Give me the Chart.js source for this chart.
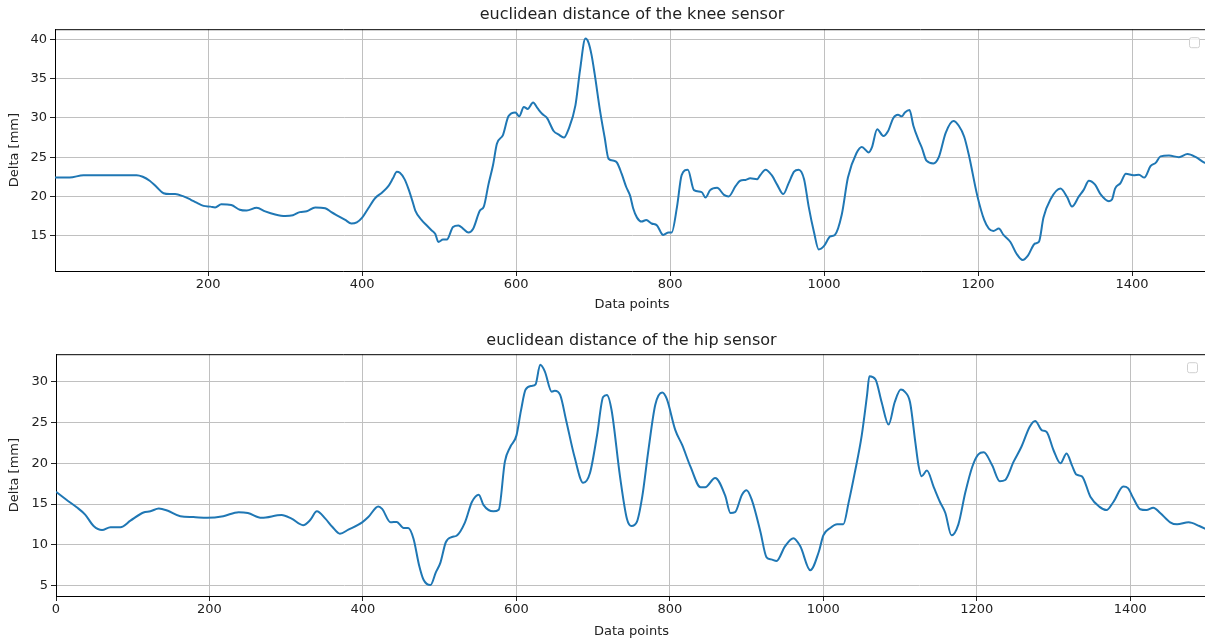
<!DOCTYPE html>
<html>
<head>
<meta charset="utf-8">
<script src="https://cdn.jsdelivr.net/npm/chart.js@4/dist/chart.umd.min.js"></script>
<style>
  body { margin: 0; background: #fff; overflow: hidden; width: 1205px; height: 639px; }
  canvas { display: block; }
</style>
</head>
<body>
<canvas id="knee" width="1210" height="320"></canvas>
<canvas id="hip" width="1210" height="319"></canvas>
<script>
// values
const kneeX = [1,20,38,60,80,107,115,124,133,142,150,157,168,177,185,194,203,209,217,230,241,250,263,274,287,300,310,319,328,339,352,360,369,378,386,393,400,408,417,426,434,440,445,449,455,460,465,469,477,484,490,495,499,505,510,518,525,531,538,544,553,558,564,570,575,583,590,599,604,610,615,622,628,634,640,649,655,662,668,677,683,690,694,698,702,709,715,720,727,731,737,743,748,752,757,763,769,776,783,791,798,802,809,815,823,831,841,846,852,861,870,876,885,891,898,904,913,917,924,932,939,947,954,961,967,974,980,987,993,1000,1008,1014,1023,1031,1042,1049,1058,1062,1069,1077,1083,1090,1096,1101,1105,1111,1116,1123,1127,1133,1142,1149,1158,1168,1175,1182,1188,1199,1208,1214,1220,1227,1233,1242,1250,1258,1265,1274,1279,1285,1294,1307,1316,1322,1331,1337,1344,1352,1359,1370,1374,1378,1385,1392,1402,1409,1416,1424,1431,1437,1448,1461,1472,1483,1494,1500];
const kneeY = [22.4,22.4,22.7,22.7,22.7,22.7,22.5,22.0,21.2,20.4,20.3,20.3,20.0,19.6,19.2,18.8,18.7,18.6,19.0,18.9,18.3,18.2,18.55,18.1,17.7,17.5,17.6,18.0,18.1,18.6,18.5,18.0,17.5,17.0,16.55,16.7,17.3,18.5,19.8,20.5,21.3,22.3,23.15,23.0,22.2,21.0,19.5,18.2,17.0,16.3,15.7,15.2,14.2,14.5,14.5,16.1,16.3,15.9,15.4,15.85,18.2,18.7,21.5,24.0,26.7,27.85,30.2,30.7,30.2,31.4,31.15,31.95,31.2,30.5,30.0,28.3,27.9,27.5,28.55,31.6,36.1,40.1,39.6,38.0,35.6,30.9,27.5,24.8,24.55,24.3,22.9,21.2,20.1,18.5,17.3,16.8,17.0,16.55,16.3,15.1,15.4,15.4,18.7,22.7,23.4,20.8,20.55,19.85,20.8,21.1,20.2,20.0,21.3,22.0,22.1,22.3,22.2,22.7,23.4,22.7,21.5,20.3,21.7,23.15,23.4,22.2,18.7,15.4,13.25,13.7,14.9,15.1,17.7,22.4,25.5,26.3,25.6,26.2,28.55,27.7,28.3,30.0,30.4,30.2,30.7,31.0,29.0,27.1,26.2,24.55,24.2,25.0,28.1,29.6,29.0,27.6,25.3,20.1,17.0,15.9,15.6,15.9,15.1,14.2,12.7,11.9,12.5,14.0,14.2,17.3,19.6,21.0,19.85,18.7,20.0,20.8,22.0,21.5,20.3,19.4,19.6,21.0,21.7,22.9,22.7,22.75,22.4,23.85,24.3,25.1,25.2,25.0,25.4,25.0,24.3,24.1];

const hipX = [0,14,27,38,49,60,71,84,97,114,123,134,145,162,179,197,218,238,250,268,294,307,322,331,340,351,360,370,381,399,407,420,425,436,444,453,459,466,473,479,488,495,501,508,516,522,533,542,551,557,570,577,585,592,600,606,612,620,625,631,637,646,650,657,665,676,687,696,705,713,718,724,735,744,750,757,764,772,781,790,796,807,816,827,840,846,859,872,879,885,894,900,907,918,926,932,939,950,961,970,983,994,1000,1009,1018,1026,1033,1041,1050,1057,1060,1068,1076,1085,1093,1101,1106,1113,1120,1124,1128,1135,1144,1152,1159,1167,1176,1185,1194,1202,1209,1220,1230,1237,1248,1258,1269,1276,1285,1291,1300,1309,1317,1324,1330,1337,1348,1360,1369,1378,1391,1397,1404,1413,1421,1430,1439,1452,1461,1476,1490,1500];
const hipY = [16.5,15.5,14.6,13.7,12.3,11.8,12.15,12.15,12.95,13.95,14.1,14.45,14.2,13.5,13.4,13.3,13.5,14.0,13.9,13.3,13.65,13.2,12.4,13.0,14.1,13.2,12.2,11.35,11.85,12.75,13.4,14.7,14.4,12.75,12.8,12.05,12.05,10.7,7.55,5.7,5.05,6.6,7.8,10.3,10.95,11.1,12.75,15.25,16.15,14.9,14.1,14.3,20.2,22.0,23.4,26.5,29.05,29.5,29.7,32.1,31.3,28.8,28.9,28.4,25.2,20.7,17.6,18.85,23.4,28.15,28.4,26.55,18.4,13.2,12.3,12.8,15.9,21.6,27.2,28.7,27.9,24.1,22.25,19.55,17.05,17.05,18.2,16.05,13.9,14.0,16.15,16.7,15.45,11.6,8.45,8.2,8.0,9.8,10.8,9.8,6.85,9.1,11.15,12.05,12.5,12.5,15.2,18.85,23.4,28.4,30.7,30.3,27.5,24.75,27.5,29.05,28.8,27.5,22.5,19.75,18.4,19.1,17.05,15.25,13.9,11.15,12.5,16.4,19.55,21.1,21.35,19.75,17.8,17.95,20.2,22.0,24.5,25.2,24.05,23.85,21.6,20.0,21.2,19.75,18.6,18.4,15.9,14.65,14.25,15.25,17.15,16.95,15.7,14.35,14.25,14.55,13.9,12.75,12.5,12.75,12.3,11.85];

const FONT = 'DejaVu Sans';
const TXT = '#222';

// top + right spines and the empty legend box in the corner
const framePlugin = {
  id: 'frame',
  afterDraw(chart) {
    const a = chart.chartArea, ctx = chart.ctx;
    ctx.save();
    ctx.strokeStyle = '#000';
    ctx.lineWidth = 1;
    ctx.beginPath();
    ctx.moveTo(a.left, a.top + 0.5);
    ctx.lineTo(a.right, a.top + 0.5);
    ctx.lineTo(a.right - 0.5, a.bottom);
    ctx.stroke();
    // empty legend
    const bx = a.right - 20, by = a.top + 8;
    ctx.strokeStyle = '#d0d0d0';
    ctx.fillStyle = 'rgba(255,255,255,0.8)';
    ctx.beginPath();
    ctx.roundRect(bx + 0.5, by + 0.5, 10, 10, 2);
    ctx.fill();
    ctx.stroke();
    ctx.restore();
  }
};

function makeChart(id, title, xs, ys, o) {
  return new Chart(id, {
    type: 'line',
    data: {
      datasets: [{
        data: xs.map((x, i) => ({ x: x, y: ys[i] })),
        borderColor: '#1f77b4',
        borderWidth: 2,
        pointRadius: 0,
        cubicInterpolationMode: 'monotone',
        fill: false
      }]
    },
    options: {
      responsive: false,
      animation: false,
      devicePixelRatio: 1,
      layout: { padding: { left: 0, right: o.padRight, top: 0, bottom: 0 } },
      plugins: {
        legend: { display: false },
        tooltip: { enabled: false },
        title: {
          display: true,
          text: title,
          color: TXT,
          fullSize: false,
          font: { family: FONT, size: 16, weight: 'normal' },
          padding: { top: o.titleTop, bottom: o.titleBottom }
        }
      },
      scales: {
        x: {
          type: 'linear',
          min: o.xMin, max: 1500,
          afterFit: (s) => { s.height = o.xHeight; },
          ticks: { stepSize: 200, includeBounds: false, color: TXT, padding: 1, maxRotation: 0,
                   callback: (v) => String(v),
                   font: { family: FONT, size: 13 } },
          grid: { color: '#c0c0c0', lineWidth: 1, tickLength: 5, tickColor: '#222' },
          border: { color: '#000', width: 1 },
          title: { display: true, text: 'Data points', color: TXT,
                   font: { family: FONT, size: 13 }, padding: { top: 0, bottom: o.xTitlePad } }
        },
        y: {
          min: o.yMin, max: o.yMax,
          afterFit: (s) => { s.width = o.yWidth; },
          ticks: { stepSize: 5, includeBounds: false, color: TXT, padding: 3,
                   callback: (v) => String(v),
                   font: { family: FONT, size: 13 } },
          grid: { color: '#c0c0c0', lineWidth: 1, tickLength: 5, tickColor: '#222' },
          border: { color: '#000', width: 1 },
          title: { display: true, text: 'Delta [mm]', color: TXT,
                   font: { family: FONT, size: 13 }, padding: { top: 7, bottom: 0 } }
        }
      }
    },
    plugins: [framePlugin]
  });
}

makeChart('knee', 'euclidean distance of the knee sensor', kneeX, kneeY, {
  xMin: 1, yMin: 10.5, yMax: 41.3, yWidth: 55, xHeight: 49, xTitlePad: 8,
  titleTop: 5, titleBottom: 5, padRight: 1
});
makeChart('hip', 'euclidean distance of the hip sensor', hipX, hipY, {
  xMin: 0, yMin: 3.7, yMax: 33.4, yWidth: 56, xHeight: 43, xTitlePad: 0,
  titleTop: 11, titleBottom: 4, padRight: 3
});
</script>
</body>
</html>
